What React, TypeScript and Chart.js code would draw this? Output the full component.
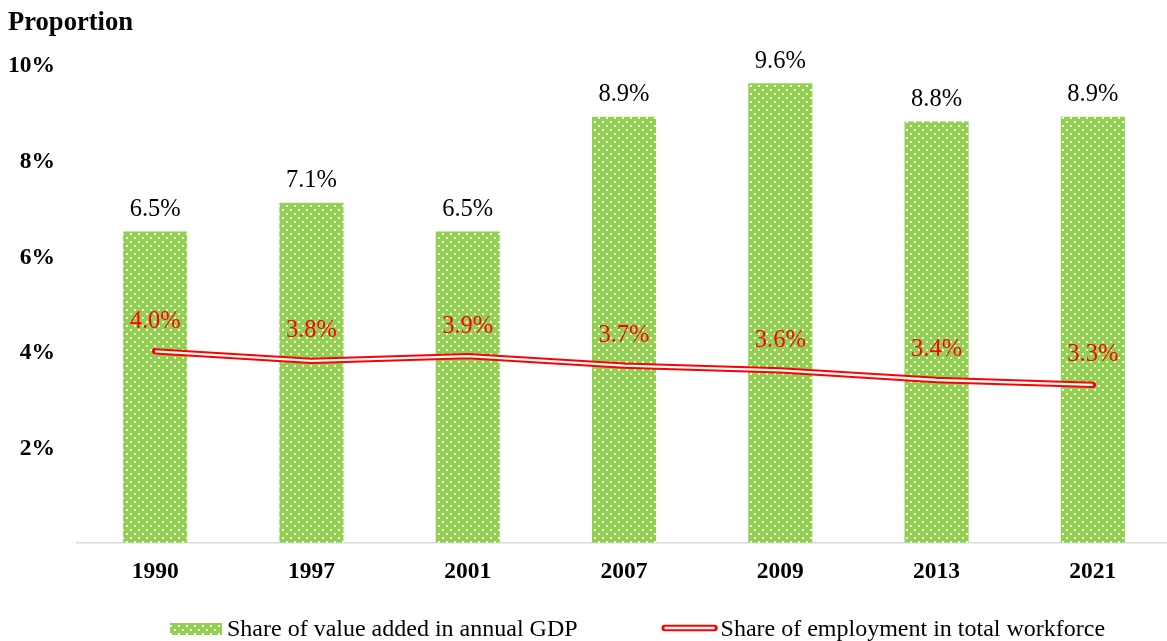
import React, { useEffect, useRef } from "react";
import { Chart, registerables } from "chart.js";

Chart.register(...registerables);

const years = ["1990", "1997", "2001", "2007", "2009", "2013", "2021"];
const gdpShare = [6.5, 7.1, 6.5, 8.9, 9.6, 8.8, 8.9];
const employmentShare = [4.0, 3.8, 3.9, 3.7, 3.6, 3.4, 3.3];
const yTicks = [0, 2, 4, 6, 8, 10];
const gdpLabel = "Share of value added in annual GDP";
const empLabel = "Share of employment in total workforce";
const yTitle = "Proportion";

const FONT = "'Liberation Serif', 'Times New Roman', serif";
const GREEN = "#92D050";
const RED = "#FF0000";

function makePattern(): CanvasPattern | string {
  const c = document.createElement("canvas");
  c.width = 8;
  c.height = 8;
  const g = c.getContext("2d");
  if (!g) return GREEN;
  g.fillStyle = GREEN;
  g.fillRect(0, 0, 8, 8);
  g.fillStyle = "rgba(255,255,255,0.95)";
  g.fillRect(2, 1, 2, 2);
  g.fillRect(6, 5, 2, 2);
  const p = g.createPattern(c, "repeat");
  return p || GREEN;
}

export default function App() {
  const ref = useRef<HTMLCanvasElement>(null);

  useEffect(() => {
    if (!ref.current) return;
    const pattern = makePattern();

    const overlay = {
      id: "overlay",
      afterDatasetsDraw(chart: any) {
        const ctx = chart.ctx;
        ctx.save();
        const barMeta = chart.getDatasetMeta(0);
        ctx.font = `24.5px ${FONT}`;
        ctx.fillStyle = "#000";
        ctx.textAlign = "center";
        ctx.textBaseline = "middle";
        barMeta.data.forEach((el: any, i: number) => {
          ctx.fillText(gdpShare[i].toFixed(1) + "%", el.x, el.y - 22);
        });
        const lineMeta = chart.getDatasetMeta(1);
        ctx.fillStyle = RED;
        lineMeta.data.forEach((el: any, i: number) => {
          ctx.fillText(employmentShare[i].toFixed(1) + "%", el.x, el.y - 30);
        });
        ctx.restore();
      },
      afterDraw(chart: any) {
        const ctx = chart.ctx;
        ctx.save();
        ctx.font = `bold 26.6px ${FONT}`;
        ctx.fillStyle = "#000";
        ctx.textAlign = "left";
        ctx.textBaseline = "middle";
        ctx.fillText(yTitle, 8, 23);
        // legend
        ctx.font = `24px ${FONT}`;
        const w1 = ctx.measureText(gdpLabel).width;
        const boxW = 52;
        const lineW = 56;
        let x = 170;
        const y = 628;
        ctx.fillStyle = pattern as any;
        ctx.fillRect(x, y - 5, boxW, 12);
        x += boxW + 5;
        ctx.fillStyle = "#000";
        ctx.fillText(gdpLabel, x, y + 2);
        x += w1 + 84;
        ctx.lineCap = "round";
        ctx.strokeStyle = RED;
        ctx.lineWidth = 6.3;
        ctx.beginPath();
        ctx.moveTo(x + 3, y);
        ctx.lineTo(x + lineW - 3, y);
        ctx.stroke();
        ctx.strokeStyle = "#fff";
        ctx.lineWidth = 2.3;
        ctx.lineCap = "butt";
        ctx.beginPath();
        ctx.moveTo(x + 3, y);
        ctx.lineTo(x + lineW - 3, y);
        ctx.stroke();
        x += lineW + 3;
        ctx.fillStyle = "#000";
        ctx.fillText(empLabel, x, y + 2);
        ctx.restore();
      },
    };

    const chart = new Chart(ref.current, {
      type: "bar",
      data: {
        labels: years,
        datasets: [
          {
            type: "bar",
            label: gdpLabel,
            data: gdpShare,
            backgroundColor: pattern as any,
            borderWidth: 0,
            barPercentage: 0.41,
            categoryPercentage: 1,
            order: 3,
          },
          {
            type: "line",
            label: empLabel,
            data: employmentShare,
            borderColor: RED,
            borderWidth: 6.3,
            borderCapStyle: "round",
            borderJoinStyle: "round",
            pointRadius: 0,
            tension: 0,
            order: 2,
          },
          {
            type: "line",
            label: "inner",
            data: employmentShare,
            borderColor: "#ffffff",
            borderWidth: 2.3,
            borderJoinStyle: "round",
            pointRadius: 0,
            tension: 0,
            order: 1,
          },
        ],
      },
      options: {
        responsive: false,
        animation: false,
        devicePixelRatio: 1,
        layout: { padding: { left: 0, right: 9, top: 64, bottom: 48 } },
        plugins: {
          legend: { display: false },
          tooltip: { enabled: false },
          title: { display: false },
        },
        scales: {
          x: {
            grid: { display: false },
            border: { display: true, color: "#d9d9d9", width: 1.5 },
            ticks: {
              color: "#000",
              padding: 7,
              font: { family: FONT, size: 23.5, weight: "bold" },
            },
          },
          y: {
            min: 0,
            max: 10,
            grid: { display: false, drawTicks: false },
            border: { display: false },
            afterFit: (scale: any) => {
              scale.width = 77;
            },
            afterBuildTicks: (scale: any) => {
              scale.ticks = yTicks.map((v) => ({ value: v }));
            },
            ticks: {
              color: "#000",
              padding: 22,
              labelOffset: 2,
              font: { family: FONT, size: 23.5, weight: "bold" },
              callback: (v: any) => (Number(v) === 0 ? "" : v + "%"),
            },
          },
        },
      },
      plugins: [overlay],
    } as any);

    return () => chart.destroy();
  }, []);

  return (
    <div
      style={{
        position: "fixed",
        left: 0,
        top: 0,
        width: 1167,
        height: 641,
        overflow: "hidden",
        background: "#fff",
      }}
    >
      <canvas ref={ref} width={1180} height={641} style={{ display: "block" }} />
    </div>
  );
}
